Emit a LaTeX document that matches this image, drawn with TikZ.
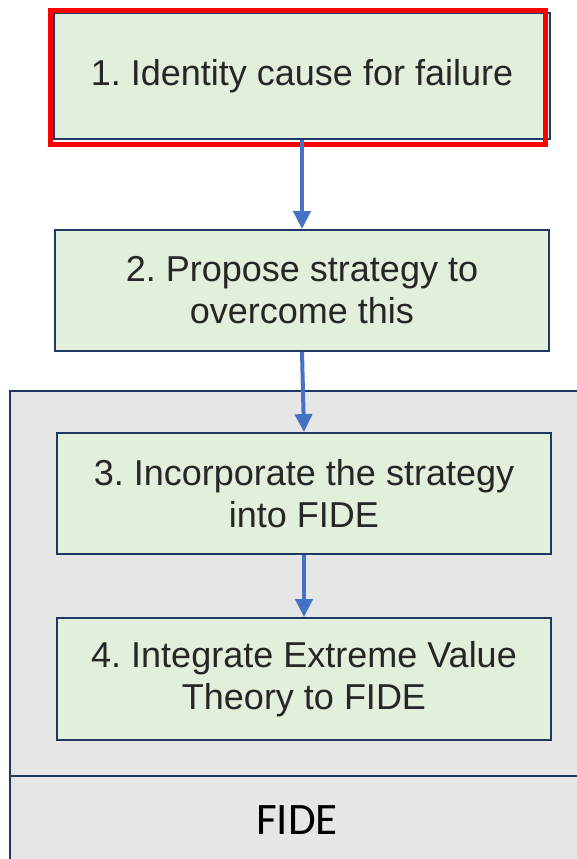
\documentclass[tikz,border=0pt]{standalone}
\usepackage{fontspec}
\setmainfont{Liberation Sans}
\newfontfamily\labelfont{Carlito}
\usetikzlibrary{arrows.meta}
\frenchspacing
\definecolor{stepfill}{HTML}{E2EFDA}
\definecolor{stepline}{HTML}{203864}
\definecolor{basefill}{HTML}{E6E6E6}
\definecolor{flowblue}{HTML}{4472C4}
\definecolor{inktext}{HTML}{262626}
\tikzset{
  stepbox/.style={draw=stepline, line width=1.8pt, fill=stepfill, text=inktext,
    minimum width=494pt, minimum height=121pt, inner sep=0pt, align=center,
    font=\fontsize{36}{42}\selectfont},
  flow/.style={draw=flowblue, line width=4pt, -{Triangle[width=17pt,length=18pt]}},
  highlight/.style={draw=red, line width=5pt, minimum width=495pt, minimum height=134pt, inner sep=0pt},
}
\begin{document}
\begin{tikzpicture}[x=1pt, y=-1pt]
  \useasboundingbox (0,0) rectangle (577,859);
  \clip (0,0) rectangle (577,859);
  % FIDE container
  \draw[stepline, line width=1.8pt, fill=basefill] (10,391) rectangle (600,880);
  \draw[stepline, line width=1.8pt] (10,776) -- (600,776);
  \node[font=\labelfont\fontsize{45}{50}\selectfont, text=black] (fide) at (297,820) {FIDE};
  % steps
  \node[stepbox, minimum width=496pt, minimum height=126pt] (s1) at (302,76) {1. Identity cause for failure};
  \node[highlight] (mark) at (298,77.5) {};
  \node[stepbox] (s2) at (302,290.5) {2. Propose strategy to\\overcome this};
  \node[stepbox] (s3) at (304,493.5) {3. Incorporate the strategy\\into FIDE};
  \node[stepbox, minimum height=122pt] (s4) at (304,679) {4. Integrate Extreme Value\\Theory to FIDE};
  % connectors
  \draw[flow] (s1.south) -- (s2.north);
  \draw[flow] (s2.south) -- (s3.north);
  \draw[flow] (s3.south) -- (s4.north);
\end{tikzpicture}
\end{document}
